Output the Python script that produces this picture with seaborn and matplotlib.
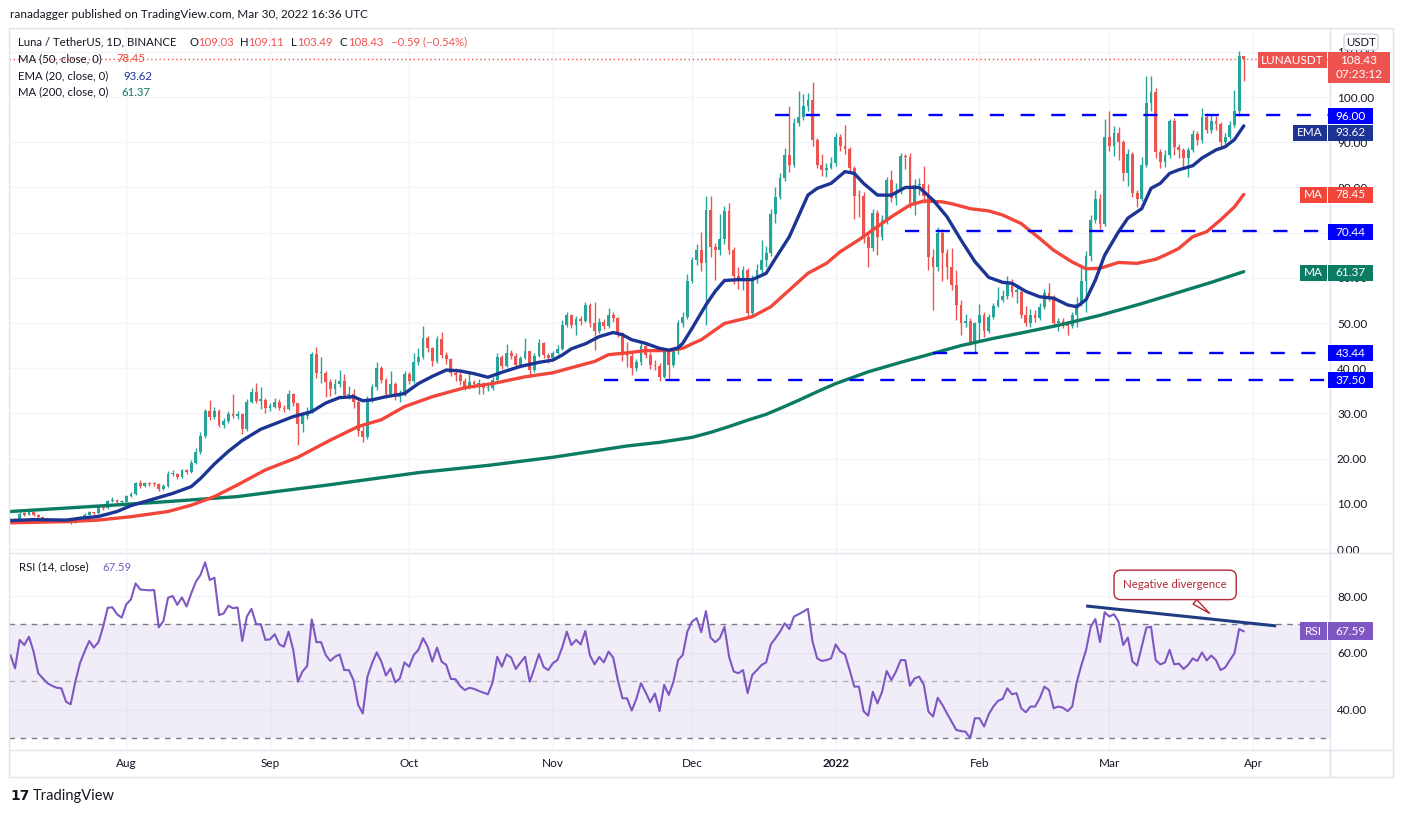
import numpy as np
import pandas as pd
import matplotlib
matplotlib.use('Agg')
import matplotlib.pyplot as plt
import seaborn as sns
from matplotlib.patches import Rectangle, FancyBboxPatch
from matplotlib.lines import Line2D

# ---- data (daily candles from 2021-07-07 to 2022-03-30) ----
start_date = '2021-07-07'
first_open = 6.2
closes = [
    6.6, 6.4, 7.8, 7.6, 8.1, 7.6, 7.0, 6.6, 6.5, 6.4,
    6.3, 6.3, 6.1, 5.8, 6.8, 7.1, 7.6, 8.1, 7.9, 9.2,
    9.0, 10.6, 10.9, 10.3, 10.5, 11.7, 12.2, 14.5, 14.0, 14.6,
    14.4, 14.3, 13.2, 14.0, 16.5, 16.7, 16.0, 17.4, 17.0, 19.1,
    21.5, 25.0, 30.5, 29.3, 30.6, 27.5, 28.3, 29.8, 29.4, 29.9,
    26.5, 32.6, 34.7, 32.8, 33.0, 31.3, 31.4, 32.5, 31.3, 31.0,
    34.3, 32.2, 27.7, 29.4, 30.3, 43.1, 38.9, 39.0, 36.9, 35.3,
    36.5, 37.2, 34.1, 34.4, 32.6, 26.0, 24.8, 33.1, 35.8, 40.0,
    37.4, 34.3, 36.5, 33.7, 34.1, 38.7, 37.2, 41.4, 42.4, 46.6,
    44.4, 41.7, 46.4, 42.9, 42.0, 38.9, 38.6, 37.2, 35.7, 37.0,
    36.5, 36.6, 35.6, 35.7, 37.4, 42.5, 40.5, 43.4, 42.8, 40.7,
    42.2, 43.7, 39.6, 42.7, 45.6, 42.9, 42.2, 43.4, 44.2, 49.6,
    51.8, 49.6, 50.8, 50.5, 54.0, 49.9, 48.3, 50.3, 49.4, 51.8,
    51.0, 47.7, 42.9, 42.8, 40.0, 41.3, 44.9, 43.0, 40.7, 40.5,
    38.1, 43.7, 40.7, 43.7, 49.9, 51.4, 59.4, 63.9, 66.2, 63.2,
    75.0, 66.9, 66.2, 68.5, 74.8, 66.2, 60.4, 59.5, 61.7, 52.3,
    59.9, 61.7, 63.9, 65.6, 74.1, 77.9, 82.0, 87.2, 85.0, 94.3,
    95.6, 98.0, 99.3, 90.5, 85.0, 83.8, 84.4, 85.4, 91.2, 89.2,
    88.5, 84.2, 78.1, 78.0, 69.1, 66.7, 74.3, 69.1, 72.9, 81.6,
    77.6, 79.3, 86.9, 86.7, 76.5, 80.5, 80.8, 78.0, 64.6, 62.5,
    70.0, 65.6, 62.5, 58.4, 54.0, 49.9, 50.5, 45.9, 49.9, 51.8,
    48.3, 51.4, 53.8, 55.1, 56.0, 59.1, 56.9, 56.9, 51.8, 50.1,
    51.8, 51.2, 53.5, 56.7, 55.8, 49.9, 50.5, 49.8, 49.4, 51.8,
    54.3, 59.4, 64.8, 72.9, 77.4, 72.0, 91.1, 89.2, 92.1, 90.1,
    83.1, 87.3, 78.8, 77.4, 85.0, 98.7, 101.0, 87.9, 85.7, 87.2,
    94.7, 88.9, 88.2, 86.4, 88.2, 91.8, 90.4, 95.6, 92.7, 94.8,
    94.0, 90.1, 91.1, 93.8, 97.0, 109.03, 108.43]
highs = [
    6.9, 6.8, 8.1, 8.2, 8.4, 8.2, 7.7, 7.1, 6.8, 6.7,
    6.6, 6.5, 6.4, 6.2, 7.0, 7.3, 7.9, 8.4, 8.3, 9.6,
    9.7, 10.9, 11.5, 11.0, 10.8, 12.0, 12.6, 14.8, 15.2, 14.9,
    14.9, 14.8, 14.5, 14.3, 17.3, 17.4, 16.9, 17.7, 17.6, 19.6,
    22.3, 25.8, 30.9, 33.0, 31.4, 30.9, 28.9, 30.5, 34.4, 30.6,
    30.2, 33.2, 35.6, 36.7, 35.8, 33.4, 32.2, 33.5, 33.3, 31.8,
    35.2, 34.6, 32.4, 30.2, 31.5, 43.6, 44.8, 42.4, 39.4, 37.6,
    37.7, 39.6, 38.8, 36.1, 35.3, 32.9, 27.3, 33.8, 36.6, 41.4,
    40.6, 37.8, 39.4, 36.9, 35.2, 39.4, 39.2, 43.4, 44.5, 49.3,
    47.1, 44.8, 47.1, 48.1, 43.6, 42.3, 40.0, 39.5, 37.8, 39.4,
    37.5, 37.7, 37.0, 36.8, 38.0, 43.3, 43.0, 45.3, 44.1, 43.3,
    42.8, 46.6, 43.9, 43.3, 46.5, 45.9, 43.4, 43.9, 45.2, 50.6,
    52.4, 52.0, 51.5, 51.5, 54.7, 54.5, 54.7, 51.0, 50.9, 53.4,
    52.4, 51.3, 48.1, 45.7, 43.3, 42.0, 45.6, 45.5, 43.6, 41.9,
    41.2, 44.3, 44.1, 44.4, 50.6, 52.5, 60.9, 64.7, 67.5, 70.2,
    78.1, 78.1, 67.8, 74.1, 75.8, 76.5, 66.8, 62.3, 62.7, 62.2,
    60.6, 63.0, 68.3, 67.0, 75.2, 80.2, 83.3, 88.7, 98.0, 95.4,
    101.4, 100.6, 100.8, 103.3, 90.9, 87.3, 85.5, 86.7, 92.0, 91.9,
    93.7, 89.0, 84.8, 79.5, 78.9, 70.0, 75.2, 75.0, 74.0, 82.2,
    83.8, 81.0, 87.6, 87.4, 87.6, 81.8, 82.0, 84.7, 80.8, 66.3,
    71.2, 70.8, 66.4, 66.5, 61.7, 55.1, 52.0, 51.2, 50.3, 54.1,
    52.4, 52.1, 54.5, 57.9, 57.3, 60.4, 59.7, 58.7, 57.4, 53.8,
    53.2, 52.8, 54.4, 57.5, 58.8, 56.3, 51.0, 51.1, 50.4, 52.5,
    55.7, 62.5, 65.9, 73.8, 79.4, 78.6, 95.1, 97.0, 93.5, 93.4,
    90.6, 88.4, 87.8, 79.5, 86.7, 104.6, 104.6, 101.9, 88.5, 88.3,
    95.1, 95.3, 89.5, 88.8, 89.0, 92.8, 92.4, 97.5, 96.5, 96.0,
    95.9, 94.5, 92.0, 94.7, 101.5, 110.2, 109.11]
lows = [
    6.0, 6.2, 6.3, 7.4, 7.5, 7.4, 6.8, 6.4, 6.3, 6.2,
    6.1, 6.0, 5.9, 5.6, 5.7, 6.6, 7.0, 7.5, 7.6, 7.8,
    8.6, 8.9, 10.4, 10.0, 10.1, 10.3, 11.5, 12.0, 13.4, 13.8,
    14.0, 13.9, 12.8, 13.0, 13.8, 16.1, 15.6, 15.8, 16.6, 16.9,
    18.9, 21.0, 24.6, 28.5, 28.8, 27.0, 26.8, 27.9, 28.9, 28.7,
    25.4, 26.2, 32.4, 32.3, 31.0, 30.2, 30.5, 31.2, 30.8, 30.4,
    30.7, 31.6, 23.0, 25.9, 28.8, 30.0, 37.8, 36.7, 33.7, 33.8,
    34.2, 35.9, 33.5, 33.3, 31.2, 25.0, 23.7, 24.4, 32.6, 35.2,
    36.8, 33.5, 33.6, 32.9, 32.5, 33.8, 36.5, 36.8, 40.8, 42.0,
    43.5, 40.6, 41.2, 42.2, 40.9, 38.2, 37.2, 36.3, 35.2, 35.4,
    35.6, 34.4, 34.4, 34.9, 35.2, 37.0, 39.8, 40.2, 42.1, 40.1,
    40.4, 42.0, 38.1, 39.2, 42.5, 42.2, 41.1, 41.9, 43.1, 44.0,
    49.1, 48.9, 47.3, 49.6, 50.2, 49.2, 44.0, 47.9, 48.6, 49.0,
    50.2, 47.0, 41.7, 40.2, 38.5, 39.4, 40.7, 42.3, 39.9, 39.6,
    37.2, 37.8, 37.6, 40.2, 43.2, 49.2, 50.8, 58.9, 62.8, 61.6,
    49.6, 64.7, 59.5, 65.0, 67.5, 65.3, 58.6, 57.5, 57.3, 51.5,
    51.8, 58.8, 61.0, 62.5, 64.9, 72.1, 77.5, 81.5, 83.4, 84.5,
    93.6, 95.0, 97.0, 89.2, 84.2, 82.6, 82.4, 84.0, 84.8, 88.1,
    87.4, 83.2, 73.1, 73.5, 67.8, 62.3, 65.9, 65.0, 68.3, 72.0,
    76.8, 76.0, 78.5, 84.0, 75.4, 74.0, 78.3, 76.6, 61.7, 52.9,
    61.5, 59.2, 59.8, 57.3, 50.6, 47.4, 49.1, 45.2, 43.4, 46.1,
    46.8, 47.7, 50.8, 53.5, 54.6, 55.4, 55.7, 54.4, 51.0, 49.3,
    49.2, 50.3, 50.7, 53.0, 54.8, 49.1, 48.3, 48.9, 47.4, 48.9,
    49.1, 53.8, 52.5, 63.8, 72.2, 70.8, 71.5, 88.0, 87.0, 86.0,
    81.5, 80.3, 77.8, 75.6, 77.0, 84.6, 97.0, 86.4, 84.3, 84.5,
    86.4, 87.2, 86.6, 84.6, 82.4, 87.9, 89.4, 89.8, 92.0, 92.1,
    92.6, 88.4, 89.6, 90.8, 93.4, 95.9, 103.49]

# moving averages (day index, value)
ema_day = [0, 5, 12, 15, 19, 23, 26, 31, 35, 39, 41, 44, 47, 50, 54, 61, 65, 68, 71, 74,
           76, 78, 81, 85, 88, 91, 94, 97, 100, 103, 106, 110, 114, 117, 119, 121, 124, 127, 130, 132,
           134, 137, 140, 142, 144, 145, 147, 150, 152, 154, 157, 160, 163, 165, 168, 172, 174, 177, 180, 182,
           184, 187, 190, 193, 196, 199, 202, 205, 208, 211, 214, 216, 219, 222, 225, 228, 230, 232, 234, 236,
           239, 241, 244, 246, 248, 250, 252, 255, 257, 260, 262, 264, 266]
ema_val = [6.3, 6.5, 6.4, 6.8, 7.2, 8.3, 9.6, 11.1, 12.3, 13.8, 15.6, 18.8, 21.6, 24.0, 26.5, 29.3, 30.4, 32.3, 33.5, 33.7,
           32.8, 33.0, 33.7, 34.4, 36.6, 38.2, 39.6, 39.4, 38.8, 38.0, 39.1, 40.4, 41.3, 41.8, 42.9, 44.3, 45.4, 47.0, 47.9, 47.4,
           46.3, 45.5, 44.4, 44.0, 44.5, 45.5, 48.8, 54.0, 57.0, 59.4, 59.6, 59.6, 61.0, 64.3, 69.1, 78.3, 79.8, 80.9, 83.5, 83.1,
           80.9, 78.3, 78.3, 80.0, 80.0, 77.2, 73.5, 68.4, 63.6, 60.1, 59.0, 58.8, 57.0, 55.8, 55.5, 54.0, 53.6, 55.2, 59.5, 65.0,
           70.2, 73.2, 75.3, 79.8, 80.9, 83.1, 83.9, 84.8, 86.5, 88.3, 89.0, 90.6, 93.62]
ma50_day = [0, 12, 19, 26, 34, 39, 44, 49, 55, 62, 69, 75, 80, 85, 91, 98, 104, 111, 117, 122,
            126, 129, 133, 137, 142, 145, 147, 149, 154, 160, 164, 168, 172, 176, 179, 183, 186, 190, 194, 197,
            201, 203, 207, 211, 214, 218, 222, 225, 229, 232, 235, 239, 243, 247, 249, 252, 255, 258, 261, 264, 266]
ma50_val = [5.8, 6.05, 6.4, 7.15, 8.3, 9.7, 11.6, 14.2, 17.5, 20.3, 24.1, 27.1, 28.6, 31.5, 33.7, 35.7, 36.6, 38.1, 39.0, 40.4,
            41.5, 43.0, 43.4, 43.9, 43.9, 44.4, 45.4, 46.3, 49.9, 51.4, 53.6, 57.3, 61.0, 63.2, 65.8, 68.4, 70.6, 73.5, 76.1, 77.0,
            76.8, 76.4, 75.3, 74.8, 73.9, 72.0, 68.7, 66.1, 63.5, 62.0, 62.1, 63.4, 63.2, 64.1, 65.0, 66.5, 69.1, 70.2, 72.8, 75.7, 78.45]
ma200_day = [0, 19, 34, 49, 58, 68, 78, 88, 103, 117, 126, 133, 140, 147, 151, 155, 159, 163, 166, 170,
             174, 178, 185, 192, 198, 205, 212, 218, 226, 235, 244, 252, 259, 266]
ma200_val = [8.3, 9.5, 10.5, 11.6, 12.8, 14.1, 15.5, 16.9, 18.5, 20.3, 21.7, 22.8, 23.6, 24.7, 25.8, 27.1, 28.5, 29.8, 31.1, 32.9,
             34.8, 36.6, 39.2, 41.3, 43.0, 45.0, 46.6, 47.8, 49.5, 51.7, 54.3, 56.8, 59.0, 61.37]

rsi = [
    59.3, 54.6, 64.6, 62.8, 65.7, 60.5, 52.9, 51.1, 49.4, 48.5,
    47.8, 47.6, 42.9, 42.0, 49.9, 56.4, 60.5, 64.2, 61.9, 63.8,
    69.2, 75.9, 76.0, 73.6, 72.4, 77.1, 78.8, 84.4, 82.3, 82.1,
    82.0, 82.1, 69.0, 71.2, 79.4, 80.0, 76.9, 79.5, 76.3, 80.9,
    85.0, 87.4, 91.8, 85.6, 86.4, 73.3, 73.9, 76.6, 75.7, 76.0,
    64.2, 72.8, 75.5, 70.1, 70.1, 64.6, 64.8, 66.6, 63.0, 62.2,
    67.5, 61.1, 49.9, 53.5, 55.4, 71.8, 63.8, 63.8, 59.3, 57.2,
    58.7, 59.5, 54.0, 54.0, 50.5, 41.8, 38.8, 51.7, 56.4, 60.2,
    57.0, 52.1, 54.6, 49.7, 51.1, 56.7, 55.2, 59.3, 61.1, 65.2,
    62.2, 57.0, 61.9, 57.0, 55.8, 50.9, 50.8, 48.4, 47.0, 47.8,
    47.4, 46.7, 46.1, 45.5, 49.7, 58.7, 55.2, 59.5, 58.4, 54.4,
    56.6, 58.7, 49.9, 54.6, 59.6, 55.1, 54.0, 56.4, 57.6, 61.9,
    67.5, 62.8, 64.6, 63.0, 67.7, 59.1, 56.0, 58.6, 56.7, 60.5,
    58.4, 50.5, 44.1, 44.1, 39.8, 43.9, 49.4, 46.2, 42.7, 45.8,
    39.6, 48.8, 45.3, 49.9, 57.5, 59.3, 67.5, 71.0, 72.2, 67.3,
    74.7, 65.4, 63.8, 65.2, 69.2, 58.7, 53.5, 52.9, 54.0, 45.9,
    52.3, 54.0, 55.8, 56.7, 63.0, 65.2, 67.5, 70.4, 68.4, 72.8,
    73.6, 74.5, 75.5, 64.0, 58.1, 57.2, 57.5, 58.1, 63.0, 60.5,
    59.5, 54.0, 48.2, 48.2, 39.6, 38.0, 46.4, 42.3, 46.4, 53.7,
    50.5, 53.5, 57.5, 57.5, 48.5, 51.1, 51.7, 48.8, 39.4, 37.7,
    44.3, 41.8, 38.8, 35.9, 33.0, 32.6, 32.4, 30.1, 37.1, 37.1,
    34.2, 38.5, 41.2, 43.2, 43.9, 47.6, 45.5, 45.9, 40.6, 39.2,
    41.2, 41.2, 44.1, 48.2, 47.0, 40.6, 41.2, 40.8, 39.6, 41.2,
    49.9, 55.8, 61.1, 69.2, 71.9, 63.8, 74.3, 72.8, 73.6, 71.0,
    62.8, 65.4, 57.0, 55.6, 62.2, 68.9, 69.2, 57.5, 56.0, 56.7,
    61.1, 56.0, 56.3, 54.4, 55.8, 58.1, 57.2, 60.2, 57.4, 59.1,
    57.5, 54.0, 54.9, 57.5, 59.9, 68.4, 67.59]

levels = [96.00, 70.44, 43.44, 37.50]
level_start = [165, 193, 199, 128]
month_labels = ['Aug', 'Sep', 'Oct', 'Nov', 'Dec', '2022', 'Feb', 'Mar', 'Apr']
div_x = [232, 273]
div_y = [76.5, 69.5]

GREEN, RED = '#26a69a', '#ef5350'
EMA_C, MA50_C, MA200_C = '#1c3594', '#f2463b', '#0b7b63'
BLUE, RSI_C, FRAME = '#0000ff', '#7e57c2', '#e0e3eb'
TXT = '#131722'

sns.set_theme(style='white')
plt.rcParams['font.family'] = ['Lato', 'DejaVu Sans']

W, H = 1405, 813
fig = plt.figure(figsize=(W / 100, H / 100), dpi=100)
fig.patch.set_facecolor('white')


def fx(x):
    return x / W


def fy(y):
    return 1 - y / H


ax = fig.add_axes([fx(9), fy(552), fx(1330) - fx(9), fy(28) - fy(552)])
rx = fig.add_axes([fx(9), fy(750), fx(1330) - fx(9), fy(553) - fy(750)], sharex=ax)

# ---- candles ----
days = np.arange(len(closes))
c = np.array(closes)
o = np.array([first_open] + closes[:-1])
col = np.where(c >= o, GREEN, RED)
ax.vlines(days, lows, highs, colors=col, lw=1, zorder=2)
ax.bar(days, np.maximum(np.abs(c - o), 0.3), bottom=np.minimum(o, c), width=0.6,
       color=col, linewidth=0, zorder=2)

# ---- moving averages ----
sns.lineplot(x=ma200_day, y=ma200_val, ax=ax, color=MA200_C, lw=2.4, zorder=3, legend=False)
sns.lineplot(x=ma50_day, y=ma50_val, ax=ax, color=MA50_C, lw=2.4, zorder=3, legend=False)
sns.lineplot(x=ema_day, y=ema_val, ax=ax, color=EMA_C, lw=2.4, zorder=3, legend=False)
for ln in ax.lines:
    ln.set_solid_joinstyle('round')

xmax = 284.6
for lv, st in zip(levels, level_start):
    ax.hlines(lv, st, xmax, colors=BLUE, lw=1.7, linestyles=(0, (6, 7)), zorder=4)
ax.axhline(closes[-1], color=RED, lw=1, ls=(0, (1, 2)), zorder=1)

ax.set_xlim(-0.3, xmax)
ax.set_ylim(-0.66, 115.27)
ax.set_yticks(np.arange(0, 111, 10))
ax.set_yticklabels([f'{v:.2f}' for v in np.arange(0, 111, 10)])
ax.yaxis.tick_right()
ax.tick_params(axis='y', length=0, pad=5, labelsize=8.5, labelcolor=TXT)
ax.tick_params(axis='x', length=0, labelbottom=False)
ax.grid(True, color='#f0f3fa', lw=1)
ax.set_xlabel('')
ax.set_ylabel('')
for s in ax.spines.values():
    s.set_visible(False)

# ---- RSI ----
rx.axhspan(30, 70, color=RSI_C, alpha=0.1, lw=0)
rx.axhline(70, color='#787b86', lw=1, ls=(0, (4, 4)))
rx.axhline(30, color='#787b86', lw=1, ls=(0, (4, 4)))
rx.axhline(50, color='#787b86', lw=1, ls=(0, (4, 4)), alpha=0.5)
sns.lineplot(x=days, y=rsi, ax=rx, color=RSI_C, lw=1.5, zorder=3, legend=False)
rx.plot(div_x, div_y, color='#203c82', lw=2.2, solid_capstyle='butt', zorder=4)
rx.annotate('Negative divergence', xy=(259.1, 73.3), xytext=(251.2, 83.9),
            ha='center', va='center', fontsize=8.3, color='#b22833', zorder=6,
            bbox=dict(boxstyle='round,pad=0.8,rounding_size=0.6', fc='white', ec='#b22833', lw=1),
            arrowprops=dict(arrowstyle='wedge,tail_width=0.5,shrink_factor=0.5', fc='white',
                            ec='#b22833', lw=1, relpos=(0.55, 0.0)),
            annotation_clip=False)

rx.set_ylim(25.96, 95.09)
rx.set_yticks([40, 60, 80])
rx.set_yticklabels(['40.00', '60.00', '80.00'])
rx.yaxis.tick_right()
rx.tick_params(axis='y', length=0, pad=5, labelsize=8.5, labelcolor=TXT)
months = pd.date_range('2021-08-01', '2022-04-01', freq='MS')
month_pos = (months - pd.Timestamp(start_date)).days
rx.set_xticks(month_pos)
rx.set_xticklabels(month_labels)
rx.tick_params(axis='x', length=0, pad=6, labelsize=8.5, labelcolor=TXT)
rx.get_xticklabels()[5].set_fontweight('bold')
rx.grid(True, color='#f0f3fa', lw=1)
rx.set_xlabel('')
rx.set_ylabel('')
for s in rx.spines.values():
    s.set_visible(False)


# ---- frame ----
def hline(y, x0, x1):
    fig.add_artist(Line2D([fx(x0), fx(x1)], [fy(y), fy(y)], color=FRAME, lw=1))


def vline(x, y0, y1):
    fig.add_artist(Line2D([fx(x), fx(x)], [fy(y0), fy(y1)], color=FRAME, lw=1))


hline(28, 9, 1393)
hline(552.5, 9, 1393)
hline(750, 9, 1393)
hline(777, 9, 1393)
vline(9, 28, 777)
vline(1330, 28, 777)
vline(1393, 28, 777)


# ---- price scale tags ----
def tag(x0, x1, yc, text, fc, h=16, tc='white'):
    fig.add_artist(Rectangle((fx(x0), fy(yc + h / 2)), fx(x1) - fx(x0), h / H,
                             transform=fig.transFigure, fc=fc, ec=fc, lw=0, zorder=5))
    fig.text(fx((x0 + x1) / 2), fy(yc), text, color=tc, fontsize=8.5, ha='center',
             va='center', zorder=6)


fig.add_artist(FancyBboxPatch((fx(1344), fy(50)), fx(34), 16 / H, transform=fig.transFigure,
                              boxstyle='round,pad=0,rounding_size=0.003', fc='white',
                              ec='#d1d4dc', lw=1, zorder=5))
fig.text(fx(1361), fy(42), 'USDT', color=TXT, fontsize=8.2, ha='center', va='center', zorder=6)

tag(1258, 1327, 60, 'LUNAUSDT', RED)
fig.add_artist(Rectangle((fx(1328), fy(83)), fx(62), 31 / H, transform=fig.transFigure,
                         fc=RED, lw=0, zorder=5))
fig.text(fx(1359), fy(60), f'{closes[-1]:.2f}', color='white', fontsize=8.5, ha='center', va='center', zorder=6)
fig.text(fx(1359), fy(75), '07:23:12', color='white', fontsize=8.5, ha='center', va='center', zorder=6)
tag(1328, 1373, 116, f'{levels[0]:.2f}', BLUE)
tag(1293, 1327, 133, 'EMA', EMA_C)
tag(1328, 1373, 133, f'{ema_val[-1]:.2f}', EMA_C)
tag(1300, 1327, 195, 'MA', MA50_C)
tag(1328, 1373, 195, f'{ma50_val[-1]:.2f}', MA50_C)
tag(1328, 1373, 232, f'{levels[1]:.2f}', BLUE)
tag(1300, 1327, 273, 'MA', MA200_C)
tag(1328, 1373, 273, f'{ma200_val[-1]:.2f}', MA200_C)
tag(1328, 1373, 353, f'{levels[2]:.2f}', BLUE)
tag(1328, 1373, 380, f'{levels[3]:.2f}', BLUE)
tag(1300, 1327, 631, 'RSI', RSI_C, h=18)
tag(1328, 1373, 631, f'{rsi[-1]:.2f}', RSI_C, h=18)


# ---- header texts ----
def txt(x, y, s, color=TXT, size=8.2, **kw):
    fig.text(fx(x), fy(y), s, color=color, fontsize=size, ha='left', va='center', zorder=6, **kw)


txt(10, 14, 'ranadagger published on TradingView.com, Mar 30, 2022 16:36 UTC', size=8.5)
txt(18, 42, 'Luna / TetherUS, 1D, BINANCE')
txt(189, 42, 'O')
txt(198, 42, '109.03', RED)
txt(240, 42, 'H')
txt(248, 42, '109.11', RED)
txt(291, 42, 'L')
txt(297, 42, '103.49', RED)
txt(340, 42, 'C')
txt(348, 42, f'{closes[-1]:.2f}', RED)
txt(391, 42, '\u22120.59 (\u22120.54%)', RED)
txt(18, 59, 'MA (50, close, 0)')
txt(116, 59, f'{ma50_val[-1]:.2f}', MA50_C)
txt(18, 76, 'EMA (20, close, 0)')
txt(123, 76, f'{ema_val[-1]:.2f}', EMA_C)
txt(18, 92, 'MA (200, close, 0)')
txt(121, 92, f'{ma200_val[-1]:.2f}', MA200_C)
txt(19, 567, 'RSI (14, close)')
txt(102, 567, f'{rsi[-1]:.2f}', RSI_C)

txt(10, 796, '17', size=10, family='DejaVu Sans', weight='heavy')
txt(33, 796, 'TradingView', size=10.5)

fig.savefig('out.png', dpi=100, facecolor='white')
